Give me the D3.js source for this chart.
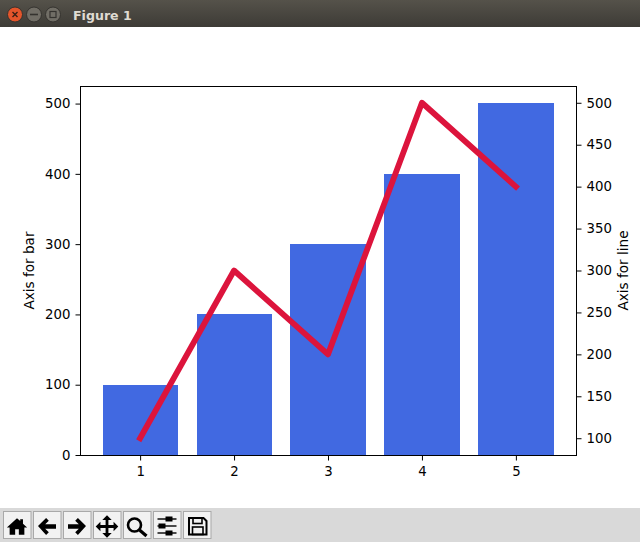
<!DOCTYPE html>
<html><head><meta charset="utf-8">
<script src="https://cdnjs.cloudflare.com/ajax/libs/d3/7.8.5/d3.min.js"></script>
<style>html,body{margin:0;padding:0;background:#fff;overflow:hidden}svg{display:block}text{font-family:"DejaVu Sans",sans-serif}</style>
</head><body><svg id="c" width="640" height="542"></svg>
<script>
const categories = [1, 2, 3, 4, 5];
const barValues = [100, 200, 300, 400, 500];
const lineValues = [100, 300, 200, 500, 400];
const leftTicks = [0, 100, 200, 300, 400, 500];
const rightTicks = [100, 150, 200, 250, 300, 350, 400, 450, 500];
const yLabelLeft = "Axis for bar";
const yLabelRight = "Axis for line";
const windowTitle = "Figure 1";

const svg = d3.select("#c");
const m = {l: 80, r: 576, t: 86, b: 455};
const x = d3.scaleLinear().domain([0.36, 5.64]).range([m.l, m.r]);
const yL = d3.scaleLinear().domain([0, 525]).range([m.b, m.t]);
const yR = d3.scaleLinear().domain([80, 520]).range([m.b, m.t]);

// Window chrome
const defs = svg.append("defs");
const g = defs.append("linearGradient").attr("id","tb").attr("x1",0).attr("x2",0).attr("y1",0).attr("y2",1);
g.append("stop").attr("offset",0).attr("stop-color","#55524a");
g.append("stop").attr("offset",1).attr("stop-color","#3d3b36");
svg.append("rect").attr("width",640).attr("height",27).attr("fill","url(#tb)");
[[15,"#e4552b"],[34,"#716e66"],[53,"#716e66"]].forEach(([cx,f])=>{
  svg.append("circle").attr("cx",cx).attr("cy",14.5).attr("r",7.5).attr("fill",f).attr("stroke","#35332f");
});
svg.append("path").attr("d","M12.5 12l5 5m0-5l-5 5").attr("stroke","#3a2015").attr("stroke-width",1.4);
svg.append("path").attr("d","M30 14.500h8").attr("stroke","#35332f").attr("stroke-width",1.6);
svg.append("rect").attr("x",50).attr("y",11.5).attr("width",6).attr("height",6).attr("fill","none").attr("stroke","#35332f").attr("stroke-width",1.2);
svg.append("text").attr("x",73).attr("y",19.5).attr("fill","#dfdbd2").attr("font-size",12.6).attr("font-weight","bold").text(windowTitle);

// Toolbar
svg.append("rect").attr("y",508).attr("width",640).attr("height",34).attr("fill","#d9d9d9");
const icons = [
  {d:"M3 14L14 4l3.5 3V5h3v5L25 14h-3v8h-6v-6h-4v6H6v-8z", c:[14,13], s:.92},
  {d:"M5 14L14 5l3 3-4 4h12v5H13l4 4-3 3z", c:[15,14.5], s:.9},
  {d:"M25 14l-9-9-3 3 4 4H5v5h12l-4 4 3 3z", c:[15,14.5], s:.9},
  {d:"M15 2l5 5h-3.500v5.500H22V9l5 5-5 5v-3.500h-5.500V21H20l-5 5-5-5h3.500v-5.500H8V19l-5-5 5-5v3.500h5.500V7H10z", c:[15,14], s:.94},
  null, null, null
];
icons.forEach((ic,i)=>{
  const bx = 3.5 + i*30, by = 511;
  const t = svg.append("g").attr("transform",`translate(${bx},${by})`);
  t.append("rect").attr("x",0).attr("y",.5).attr("width",27.5).attr("height",27).attr("fill","#f2f2f2").attr("stroke","#a9a9a9");
  if (ic) t.append("path").attr("d",ic.d).attr("fill","#000")
    .attr("transform",`translate(13.5,15.5) scale(${ic.s}) translate(${-ic.c[0]},${-ic.c[1]})`);
  if (i===4){
    t.append("circle").attr("cx",11).attr("cy",14).attr("r",6.5).attr("fill","none").attr("stroke","#000").attr("stroke-width",2.6);
    t.append("path").attr("d","M16 19L23 25").attr("stroke","#000").attr("stroke-width",3.2);
  }
  if (i===5){
    [[8,15],[15,8],[22,15]].forEach(([yy,k])=>{
      t.append("path").attr("d",`M4 ${yy}H23`).attr("stroke","#000").attr("stroke-width",1.4);
      t.append("rect").attr("x",k-3).attr("y",yy-2.5).attr("width",7).attr("height",5).attr("fill","#000");
    });
  }
  if (i===6){
    t.append("path").attr("d","M5.500 7H20L23 10V23.500H5.500z").attr("fill","none").attr("stroke","#000").attr("stroke-width",2);
    t.append("rect").attr("x",9.5).attr("y",7).attr("width",9).attr("height",5.5).attr("fill","none").attr("stroke","#000").attr("stroke-width",1.6);
    t.append("rect").attr("x",9).attr("y",16).attr("width",10.5).attr("height",7.5).attr("fill","none").attr("stroke","#000").attr("stroke-width",1.6);
  }
});

// Bars
const barW = x(0.8) - x(0);
svg.selectAll("rect.bar").data(barValues).join("rect").attr("class","bar")
  .attr("x",(d,i)=>x(categories[i])-barW/2+.05).attr("width",barW)
  .attr("y",d=>yL(d)-.2).attr("height",d=>yL(0)-yL(d)+.2).attr("fill","#4169e1")
  .attr("shape-rendering","crispEdges");

// Line
svg.append("path").datum(lineValues)
  .attr("d", d3.line().x((d,i)=>x(categories[i])).y(d=>yR(d)))
  .attr("fill","none").attr("stroke","#dc143c").attr("stroke-width",5.8).attr("stroke-linejoin","round").attr("stroke-linecap","square");

// Axes
function style(a){
  a.selectAll("text").attr("font-size",13.3).attr("fill","#000").attr("font-family","DejaVu Sans");
  a.selectAll("line").attr("stroke","#000").attr("stroke-width",1);
  a.select(".domain").remove();
}
svg.append("g").attr("transform",`translate(0,${m.b+.5})`)
  .call(d3.axisBottom(x).tickValues(categories).tickSize(5).tickPadding(6).tickFormat(d3.format("d"))).call(style);
svg.append("g").attr("transform",`translate(${m.l+.5},0)`)
  .call(d3.axisLeft(yL).tickValues(leftTicks).tickSize(5).tickPadding(5)).call(style);
svg.append("g").attr("transform",`translate(${m.r+.5},0)`)
  .call(d3.axisRight(yR).tickValues(rightTicks).tickSize(5).tickPadding(5)).call(style);
svg.append("rect").attr("x",m.l+.5).attr("y",m.t+.5).attr("width",m.r-m.l).attr("height",m.b-m.t)
  .attr("fill","none").attr("stroke","#000").attr("stroke-width",1);

// Labels
svg.append("text").attr("transform",`translate(34,${(m.t+m.b)/2}) rotate(-90)`).attr("text-anchor","middle").attr("font-size",13.6).text(yLabelLeft);
svg.append("text").attr("transform",`translate(628,${(m.t+m.b)/2}) rotate(-90)`).attr("text-anchor","middle").attr("font-size",13.6).text(yLabelRight);
</script></body></html>
